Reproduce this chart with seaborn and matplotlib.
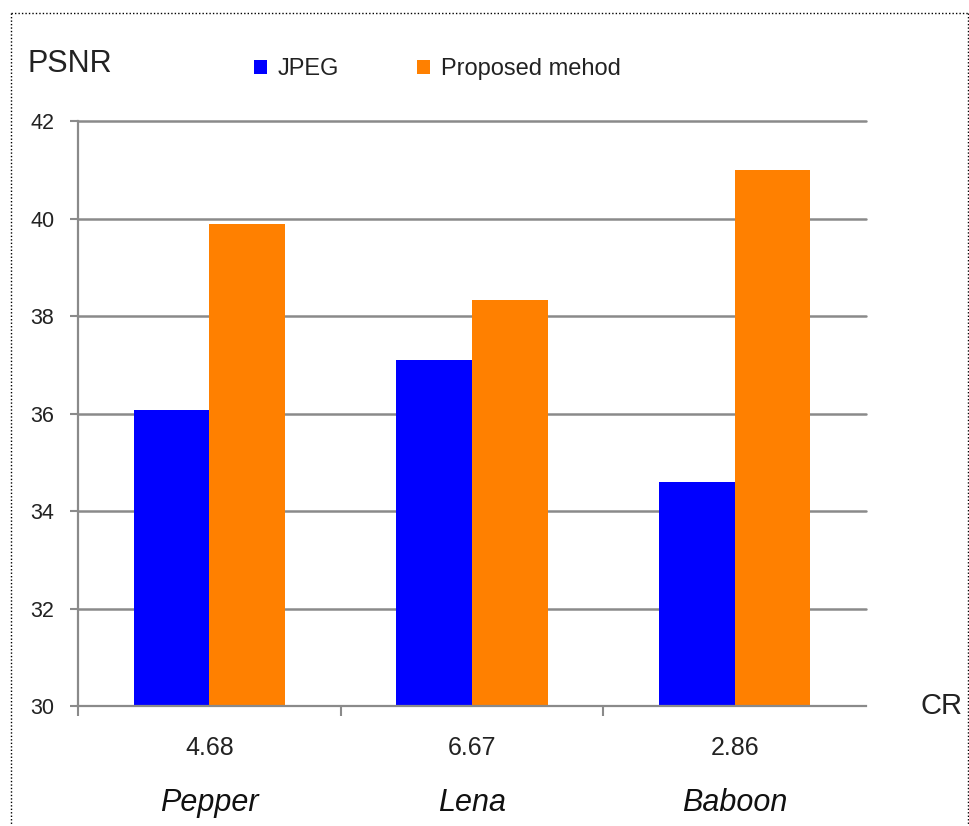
import matplotlib
matplotlib.use("Agg")
import matplotlib.pyplot as plt
from matplotlib.lines import Line2D
import matplotlib.transforms as mtransforms
import pandas as pd
import seaborn as sns

# PSNR results per test image
images = ["Pepper", "Lena", "Baboon"]
cr_values = ["4.68", "6.67", "2.86"]
methods = ["JPEG", "Proposed mehod"]
psnr_jpeg = [36.07, 37.09, 34.59]
psnr_proposed = [39.88, 38.32, 41.0]
y_ticks = [30, 32, 34, 36, 38, 40, 42]
colors = ["#0000FF", "#FF8000"]

df = pd.DataFrame({
    "image": images * 2,
    "method": [methods[0]] * 3 + [methods[1]] * 3,
    "psnr": psnr_jpeg + psnr_proposed,
})

sns.set_theme(style="white")
plt.rcParams["font.family"] = ["Liberation Sans", "DejaVu Sans"]

W, H = 970, 826
fig = plt.figure(figsize=(W / 100, H / 100), dpi=100)
fig.patch.set_facecolor("white")

x0, x1, y_top, y_bot = 78, 866, 121, 706
ax = fig.add_axes([x0 / W, 1 - y_bot / H, (x1 - x0) / W, (y_bot - y_top) / H])

sns.barplot(data=df, x="image", y="psnr", hue="method", order=images,
            hue_order=methods, palette=colors, width=0.575, saturation=1,
            edgecolor="none", linewidth=0, ax=ax, legend=True)

ax.set_ylim(30, 42)
ax.set_xlim(-0.5, 2.5)
ax.set_yticks(y_ticks)
ax.set_yticklabels([str(t) for t in y_ticks], fontsize=15.5, color="#222222")
ax.set_xticks([-0.5, 0.5, 1.5])
ax.set_xticklabels([])
ax.set_xlabel("")
ax.set_ylabel("")

grid_c = "#8a8a8a"
ax.set_axisbelow(True)
for t in y_ticks[1:]:
    ax.axhline(t, color=grid_c, lw=1.8, zorder=0.5, clip_on=False)

for side in ["top", "right"]:
    ax.spines[side].set_visible(False)
for side in ["left", "bottom"]:
    ax.spines[side].set_color(grid_c)
    ax.spines[side].set_linewidth(1.6)

ax.tick_params(axis="y", direction="out", length=6, width=1.5, color=grid_c,
               pad=11, left=True)
ax.tick_params(axis="x", direction="out", length=7, width=1.5, color=grid_c,
               bottom=True)

# Category labels: compression ratio and image name
trans = mtransforms.blended_transform_factory(ax.transData, ax.transAxes)
for i, (name, cr) in enumerate(zip(images, cr_values)):
    ax.text(i, -0.072, cr, transform=trans, ha="center", va="center",
            fontsize=18, color="#222222")
    ax.text(i, -0.165, name, transform=trans, ha="center", va="center",
            fontsize=22, style="italic", color="#111111")

# Axis titles
fig.text(28 / W, 1 - 71.5 / H, "PSNR", fontsize=22, color="#222222",
         ha="left", va="baseline")
fig.text(921 / W, 1 - 714 / H, "CR", fontsize=21, color="#222222",
         ha="left", va="baseline")

# Legend across the top
handles, labels = ax.get_legend_handles_labels()
ax.legend(handles, labels, ncol=2, frameon=False, fontsize=17,
          loc="upper left", bbox_to_anchor=(254 / W, 1 - 58 / H),
          bbox_transform=fig.transFigure, borderpad=0, borderaxespad=0,
          handlelength=0.55, handleheight=0.55, handletextpad=0.45,
          columnspacing=3.3, labelcolor="#222222")

# Dotted frame around the figure
dot = dict(color="black", lw=1.0, linestyle=(0, (1, 1.5)),
           transform=fig.transFigure)
fig.add_artist(Line2D([11 / W, 968 / W], [1 - 13 / H, 1 - 13 / H], **dot))
fig.add_artist(Line2D([11 / W, 11 / W], [1 - 13 / H, 0], **dot))
fig.add_artist(Line2D([968 / W, 968 / W], [1 - 13 / H, 0], **dot))

fig.savefig("out.png", dpi=100, facecolor="white")
